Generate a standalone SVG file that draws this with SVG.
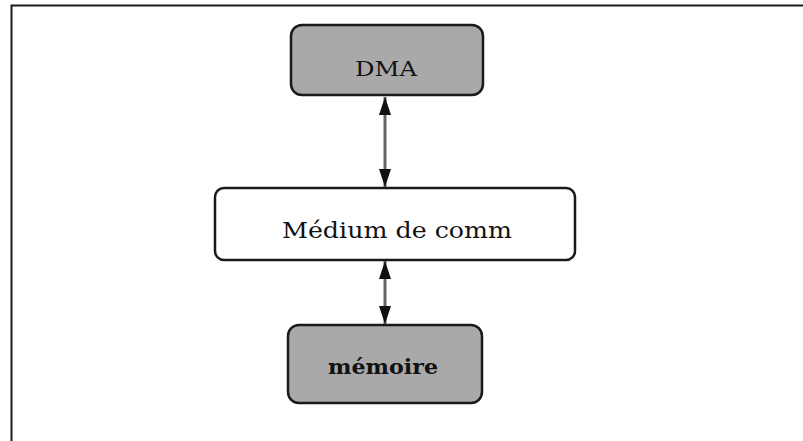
<svg xmlns="http://www.w3.org/2000/svg" width="803" height="441" viewBox="0 0 803 441">
  <defs>
    <style>
      .frame { stroke: #1a1a1a; stroke-width: 2; fill: none; }
      .box-dark { fill: #a9a9a9; stroke: #1a1a1a; stroke-width: 2.5; }
      .box-light { fill: #ffffff; stroke: #1a1a1a; stroke-width: 2.5; }
      .label { font-family: "DejaVu Serif", "Liberation Serif", serif; fill: #111; text-anchor: middle; }
      .link { stroke: #666; stroke-width: 3; fill: none; marker-start: url(#head); marker-end: url(#head); }
    </style>
    <marker id="head" viewBox="0 0 18 12" refX="18" refY="6" markerWidth="18" markerHeight="12" markerUnits="userSpaceOnUse" orient="auto-start-reverse" preserveAspectRatio="none">
      <path d="M0,0 L18,6 L0,12 Z" fill="#111"/>
    </marker>
  </defs>

  <!-- page frame -->
  <path class="frame" d="M11.5,441 L11.5,5.5 L803,5.5"/>

  <!-- connectors -->
  <g id="connectors">
    <line class="link" x1="385" y1="97" x2="385" y2="187"/>
    <line class="link" x1="385" y1="261" x2="385" y2="324"/>
  </g>

  <g id="node-dma">
    <rect class="box-dark" x="291" y="25" width="192" height="70" rx="11"/>
    <text class="label" x="386" y="76" font-size="21" textLength="62" lengthAdjust="spacingAndGlyphs">DMA</text>
  </g>

  <g id="node-medium">
    <rect class="box-light" x="215" y="188" width="360" height="72" rx="9"/>
    <text class="label" x="397" y="238" font-size="22" textLength="230" lengthAdjust="spacingAndGlyphs">Médium de comm</text>
  </g>

  <g id="node-memoire">
    <rect class="box-dark" x="288" y="325" width="194" height="78" rx="11"/>
    <text class="label" x="383" y="374" font-size="21" font-weight="bold" textLength="110" lengthAdjust="spacingAndGlyphs">mémoire</text>
  </g>
</svg>
